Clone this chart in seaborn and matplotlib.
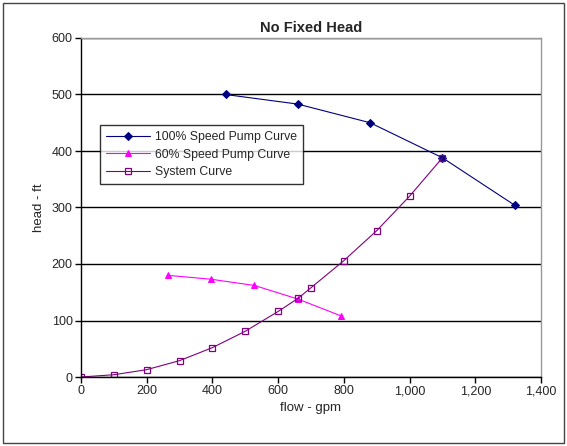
import matplotlib
matplotlib.use("Agg")
import matplotlib.pyplot as plt
from matplotlib.ticker import FuncFormatter, MultipleLocator
import seaborn as sns
import pandas as pd

full_flow = [440, 660, 880, 1100, 1320]
full_head = [500, 483, 450, 388, 304]

slow_flow = [264, 396, 528, 660, 792]
slow_head = [180, 173, 162, 138, 108]

sys_flow = [0, 100, 200, 300, 400, 500, 600, 660, 700, 800, 900, 1000, 1100]
sys_head = [0, 4, 13, 29, 52, 81, 116, 139, 158, 206, 259, 320, 388]

sns.set_style("white")
plt.rcParams['font.family'] = ['Liberation Sans', 'DejaVu Sans']

fig = plt.figure(figsize=(5.67, 4.46), dpi=100)
ax = fig.add_axes([81/567, 1-377/446, 460/567, 339/446])

df_full = pd.DataFrame({'flow': full_flow, 'head': full_head})
df_slow = pd.DataFrame({'flow': slow_flow, 'head': slow_head})
df_sys = pd.DataFrame({'flow': sys_flow, 'head': sys_head})

sns.lineplot(data=df_full, x='flow', y='head', ax=ax, color='#000080', lw=0.8,
             marker='D', markersize=3.8, markeredgecolor='#000080',
             label='100% Speed Pump Curve')
sns.lineplot(data=df_slow, x='flow', y='head', ax=ax, color='#ff00ff', lw=0.8,
             marker='^', markersize=5, markeredgecolor='#ff00ff',
             label='60% Speed Pump Curve')
sns.lineplot(data=df_sys, x='flow', y='head', ax=ax, color='#800080', lw=0.8,
             marker='s', markersize=4, markerfacecolor='none',
             markeredgecolor='#800080', markeredgewidth=0.9,
             label='System Curve')

ax.set_xlim(0, 1400)
ax.set_ylim(0, 600)
ax.xaxis.set_major_locator(MultipleLocator(200))
ax.yaxis.set_major_locator(MultipleLocator(100))
ax.xaxis.set_major_formatter(FuncFormatter(lambda v, p: f'{int(v):,}'))
ax.yaxis.grid(True, color='black', lw=1.0)
ax.set_axisbelow(True)

for s in ['top', 'right']:
    ax.spines[s].set_color('#999999')
    ax.spines[s].set_linewidth(1.0)
for s in ['left', 'bottom']:
    ax.spines[s].set_color('black')
    ax.spines[s].set_linewidth(1.0)

ax.tick_params(axis='both', direction='out', length=4, width=1, color='black',
               labelsize=9, pad=2, left=True, bottom=True)

ax.set_title('No Fixed Head', fontsize=10.5, fontweight='bold', pad=4)
ax.set_xlabel('flow - gpm', fontsize=9.5, labelpad=3)
ax.set_ylabel('head - ft', fontsize=9.5, labelpad=5)

leg = ax.legend(loc='upper left', bbox_to_anchor=(19/460, (377-125)/339),
                borderaxespad=0, fontsize=8.8, frameon=True, fancybox=False,
                borderpad=0.5, handlelength=3.6, labelspacing=0.45,
                handletextpad=0.4)
leg.get_frame().set_edgecolor('black')
leg.get_frame().set_linewidth(1.0)

fig.patches.append(plt.Rectangle((3/567, 3/446), 1-6/567, 1-6/446,
                                 transform=fig.transFigure, fill=False,
                                 edgecolor='#444444', lw=1.0))

fig.savefig('out.png', dpi=100)
